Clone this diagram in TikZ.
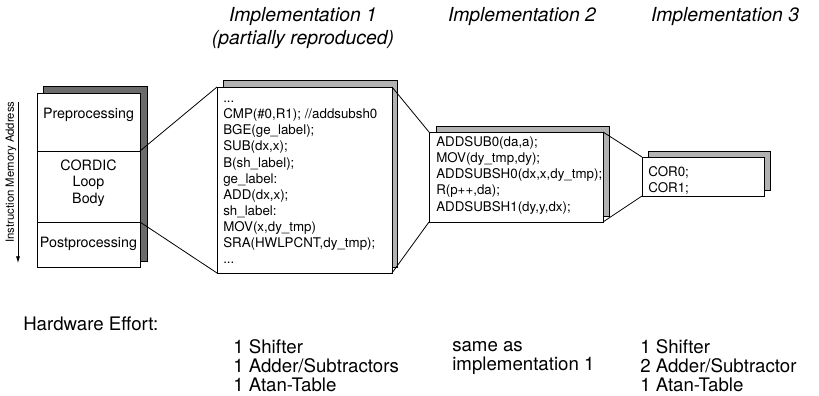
\documentclass[tikz,border=0pt]{standalone}
\usepackage{fontspec}
\setmainfont{TeX Gyre Heros}
\usetikzlibrary{arrows.meta}

\tikzset{
  frontbox/.style={draw, fill=white, line width=0.6pt},
  darkshade/.style={draw, fill=black!58, line width=0.6pt},
  lightshade/.style={draw, fill=black!30, line width=0.6pt},
  codetext/.style={anchor=north west, align=left, inner sep=0pt, font=\fontsize{10}{12.1}\selectfont},
  memtext/.style={align=center, inner sep=0pt, font=\fontsize{10.7}{12.4}\selectfont},
  headline/.style={font=\fontsize{14.5}{17}\selectfont\itshape, align=center, inner sep=0pt},
  effort/.style={anchor=west, inner sep=0pt, font=\fontsize{14}{15}\selectfont},
  zoomline/.style={line width=0.6pt},
}

\begin{document}
\begin{tikzpicture}[x=0.75pt, y=-0.75pt]
\useasboundingbox (0,0) rectangle (819,396);

% titles
\node[headline] (head1) at (303,17) {Implementation 1};
\node[headline] (head1b) at (303,40) {(partially reproduced)};
\node[headline] (head2) at (522,17) {Implementation 2};
\node[headline] (head3) at (725,17) {Implementation 3};

% memory layout
\draw[darkshade] (43,86) rectangle (147,261);
\draw[frontbox] (37,93) rectangle (140,267);
\coordinate (preL) at (37,151);
\coordinate (preR) at (140,151);
\coordinate (postL) at (37,222);
\coordinate (postR) at (140,222);
\draw[line width=0.6pt] (preL) -- (preR);
\draw[line width=0.6pt] (postL) -- (postR);
\node[memtext] (prep) at (88.5,115) {Preprocessing};
\node[memtext] (loop) at (88.5,183) {CORDIC\\Loop\\Body};
\node[memtext] (postp) at (88.5,244) {Postprocessing};

\coordinate (arrowtop) at (18,102);
\coordinate (arrowtip) at (18,263);
\draw[-{Latex[length=5pt,width=3pt]}, line width=0.5pt] (arrowtop) -- (arrowtip);
\node[rotate=90, inner sep=0pt, font=\fontsize{8.5}{9}\selectfont] (addr) at (11,172) {Instruction Memory Address};

% implementation 1
\draw[lightshade] (223,80) rectangle (397,267);
\draw[frontbox] (217,87) rectangle (392,273);
\coordinate (i1nw) at (217,87);
\coordinate (i1sw) at (217,273);
\coordinate (i1ne) at (392,87);
\coordinate (i1se) at (392,273);
\node[codetext] (code1) at (223,91) {\strut...\\
CMP(\#0,R1); //addsubsh0\\
BGE(ge\_label);\\
SUB(dx,x);\\
B(sh\_label);\\
ge\_label:\\
ADD(dx,x);\\
sh\_label:\\
MOV(x,dy\_tmp)\\
SRA(HWLPCNT,dy\_tmp);\\
...};

% implementation 2
\draw[lightshade] (436,126) rectangle (609,216);
\draw[frontbox] (429,132) rectangle (603,222);
\coordinate (i2nw) at (429,132);
\coordinate (i2sw) at (429,222);
\coordinate (i2ne) at (603,132);
\coordinate (i2se) at (603,222);
\node[codetext] (code2) at (436,135) {\strut ADDSUB0(da,a);\\
MOV(dy\_tmp,dy);\\
ADDSUBSH0(dx,x,dy\_tmp);\\
R(p++,da);\\
ADDSUBSH1(dy,y,dx);};

% implementation 3
\draw[lightshade] (648,151) rectangle (770,190);
\draw[frontbox] (642,157) rectangle (764,196);
\coordinate (i3nw) at (642,157);
\coordinate (i3sw) at (642,196);
\node[codetext] (code3) at (648,165) {\strut COR0;\\
COR1;};

% zoom lines
\draw[zoomline] (preR) -- (i1nw);
\draw[zoomline] (postR) -- (i1sw);
\draw[zoomline] (i1ne) -- (i2nw);
\draw[zoomline] (i1se) -- (i2sw);
\draw[zoomline] (i2ne) -- (i3nw);
\draw[zoomline] (i2se) -- (i3sw);

% hardware effort
\node[effort] (hw) at (23,324) {Hardware Effort:};
\node[effort] (a1) at (233,347) {1 Shifter};
\node[effort] (a2) at (233,366) {1 Adder/Subtractors};
\node[effort] (a3) at (233,385) {1 Atan-Table};
\node[effort] (b1) at (452,347) {same as};
\node[effort] (b2) at (452,366) {implementation 1};
\node[effort] (c1) at (640,347) {1 Shifter};
\node[effort] (c2) at (640,366) {2 Adder/Subtractor};
\node[effort] (c3) at (640,385) {1 Atan-Table};
\end{tikzpicture}
\end{document}
